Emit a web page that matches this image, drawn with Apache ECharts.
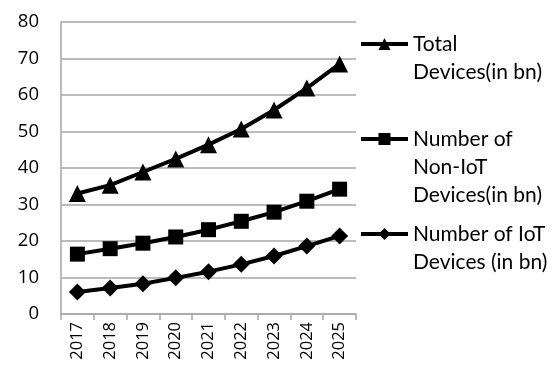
<!DOCTYPE html>
<html><head><meta charset="utf-8">
<script src="https://cdn.jsdelivr.net/npm/echarts@6/dist/echarts.min.js"></script>
<style>html,body{margin:0;padding:0;background:#fff}#c{width:552px;height:374px}</style>
</head><body><div id="c"></div>
<script>
var years = ['2017','2018','2019','2020','2021','2022','2023','2024','2025'];
var totalDevices = [33, 35.3, 38.9, 42.5, 46.4, 50.7, 55.9, 61.9, 68.5];
var nonIotDevices = [16.4, 17.9, 19.4, 21.1, 23.1, 25.4, 27.9, 30.9, 34.2];
var iotDevices = [6, 7.1, 8.3, 9.9, 11.6, 13.6, 15.9, 18.6, 21.4];
var seriesNames = ['Total Devices(in bn)', 'Number of Non-IoT Devices(in bn)', 'Number of IoT Devices (in bn)'];
var legendLabels = ['\nTotal\nDevices(in bn)', '\n\nNumber of\nNon-IoT\nDevices(in bn)', '\nNumber of IoT\nDevices (in bn)'];
var yTicks = {min: 0, max: 80, interval: 10};

var chart = echarts.init(document.getElementById('c'));
function mkLegend(i, top) {
  return {
    data: [seriesNames[i]],
    left: 359, top: top, padding: 0,
    itemWidth: 47, itemHeight: 15,
    itemGap: 0,
    lineStyle: {width: 4, color: '#000'},
    itemStyle: {color: '#000'},
    formatter: function () { return legendLabels[i]; },
    textStyle: {fontFamily: 'Lato', fontSize: 21, color: '#000', lineHeight: 28}
  };
}
var lineStyle = {color: '#000', width: 4};
chart.setOption({
  animation: false,
  grid: {left: 61, right: 196, top: 22, bottom: 60},
  legend: [mkLegend(0, 2), mkLegend(1, 69), mkLegend(2, 192)],
  xAxis: {
    type: 'category', data: years, boundaryGap: true,
    axisLine: {lineStyle: {color: '#a6a6a6', width: 1.5}},
    axisTick: {show: true, length: 6, lineStyle: {color: '#a6a6a6', width: 1.5}},
    axisLabel: {rotate: 90, fontFamily: 'Open Sans', fontSize: 16.5, color: '#000', margin: 8}
  },
  yAxis: {
    type: 'value', min: yTicks.min, max: yTicks.max, interval: yTicks.interval,
    axisLine: {show: true, lineStyle: {color: '#a6a6a6', width: 1.5}},
    axisTick: {show: false},
    splitLine: {lineStyle: {color: '#a6a6a6', width: 1.5}},
    axisLabel: {fontFamily: 'Open Sans', fontSize: 18.5, color: '#000', margin: 22}
  },
  series: [
    {name: seriesNames[0], type: 'line', data: totalDevices, symbol: 'triangle', symbolSize: 17,
     lineStyle: lineStyle, itemStyle: {color: '#000'}},
    {name: seriesNames[1], type: 'line', data: nonIotDevices, symbol: 'rect', symbolSize: 15,
     lineStyle: lineStyle, itemStyle: {color: '#000'}},
    {name: seriesNames[2], type: 'line', data: iotDevices, symbol: 'diamond', symbolSize: 17,
     lineStyle: lineStyle, itemStyle: {color: '#000'}}
  ]
});
</script></body></html>
